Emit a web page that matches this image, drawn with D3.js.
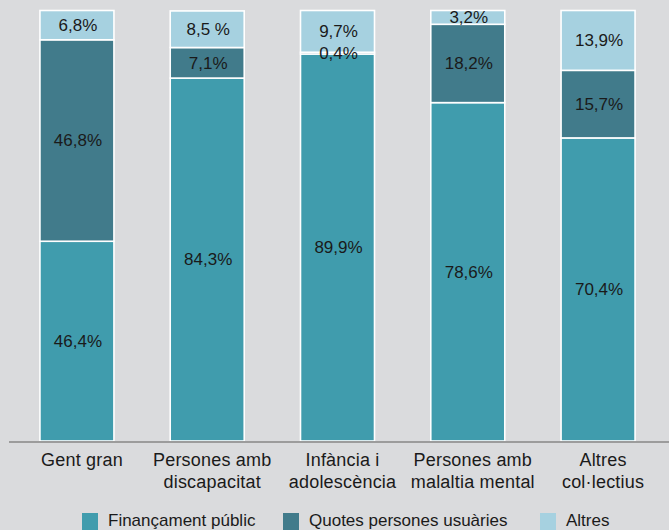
<!DOCTYPE html>
<html><head><meta charset="utf-8">
<script src="https://cdn.jsdelivr.net/npm/d3@7"></script>
<style>html,body{margin:0;padding:0;background:#dadbdd;overflow:hidden}svg{display:block}</style>
</head><body>
<svg id="chart" width="669" height="530"></svg>
<script>
const categories = [["Gent gran"],["Persones amb","discapacitat"],["Infància i","adolescència"],["Persones amb","malaltia mental"],["Altres","col·lectius"]];
const seriesNames = ["Finançament públic","Quotes persones usuàries","Altres"];
const publicValues = [46.4, 84.3, 89.9, 78.6, 70.4];
const quotesValues = [46.8, 7.1, 0.4, 18.2, 15.7];
const altresValues = [6.8, 8.5, 9.7, 3.2, 13.9];
const altresLabels = ["6,8%","8,5 %","9,7%","3,2%","13,9%"];
const colors = ["#409cad","#417b8b","#a6d1e0"];

const svg = d3.select("#chart");
const keys = ["pub","quo","alt"];
const data = categories.map((c,i)=>({cat:i, pub:publicValues[i], quo:quotesValues[i], alt:altresValues[i]}));
const stack = d3.stack().keys(keys)(data);

const x = d3.scaleBand().domain(d3.range(categories.length)).range([11.8, 663.2]).paddingInner(0.432).paddingOuter(0.216);
const y = d3.scaleLinear().domain([0,100]).range([441, 10.5]);
const fmt = v => d3.format(".1f")(v).replace(".", ",") + "%";

const g = svg.append("g");
stack.forEach((s,si)=>{
  g.selectAll(null).data(s).enter().append("rect")
    .attr("x", d=>x(d.data.cat))
    .attr("width", x.bandwidth())
    .attr("y", d=>y(d[1]))
    .attr("height", d=>Math.max(0, y(d[0])-y(d[1])))
    .attr("fill", colors[si])
    .attr("stroke", "#fff").attr("stroke-width", 1.6);
});
stack.forEach((s,si)=>{
  g.selectAll(null).data(s).enter().append("text")
    .attr("x", d=>x(d.data.cat)+x.bandwidth()/2+1)
    .attr("y", d=>(y(d[0])+y(d[1]))/2)
    .attr("dy","0.35em")
    .attr("text-anchor","middle")
    .attr("font-family","'Liberation Sans', Arial, sans-serif")
    .attr("font-size","17px").attr("fill","#1a1a1a")
    .text((d,i)=> si===2 ? altresLabels[i] : fmt(d[1]-d[0]));
});

// axis
const axis = svg.append("g").attr("transform","translate(0,442)")
  .call(d3.axisBottom(x).tickSize(0).tickFormat(""));
axis.select(".domain").attr("stroke","#9c9c9c").attr("stroke-width",2.2).attr("d","M9,0H669");
axis.selectAll(".tick").each(function(i){
  const t = d3.select(this).append("text")
    .attr("text-anchor","middle").attr("fill","#1a1a1a")
    .attr("font-family","'Liberation Sans', Arial, sans-serif").attr("font-size","18px")
    .attr("letter-spacing","0.2px");
  categories[i].forEach((line,li)=>{
    t.append("tspan").attr("x",5).attr("y",24+li*22).text(line);
  });
});

// legend
const legendX = [82, 283, 540];
const lg = svg.append("g");
seriesNames.forEach((n,i)=>{
  lg.append("rect").attr("x",legendX[i]).attr("y",513).attr("width",16).attr("height",17).attr("fill",colors[i]);
  lg.append("text").attr("x",legendX[i]+26).attr("y",526)
    .attr("font-family","'Liberation Sans', Arial, sans-serif").attr("font-size","17px").attr("fill","#1a1a1a").text(n);
});
</script>
</body></html>
